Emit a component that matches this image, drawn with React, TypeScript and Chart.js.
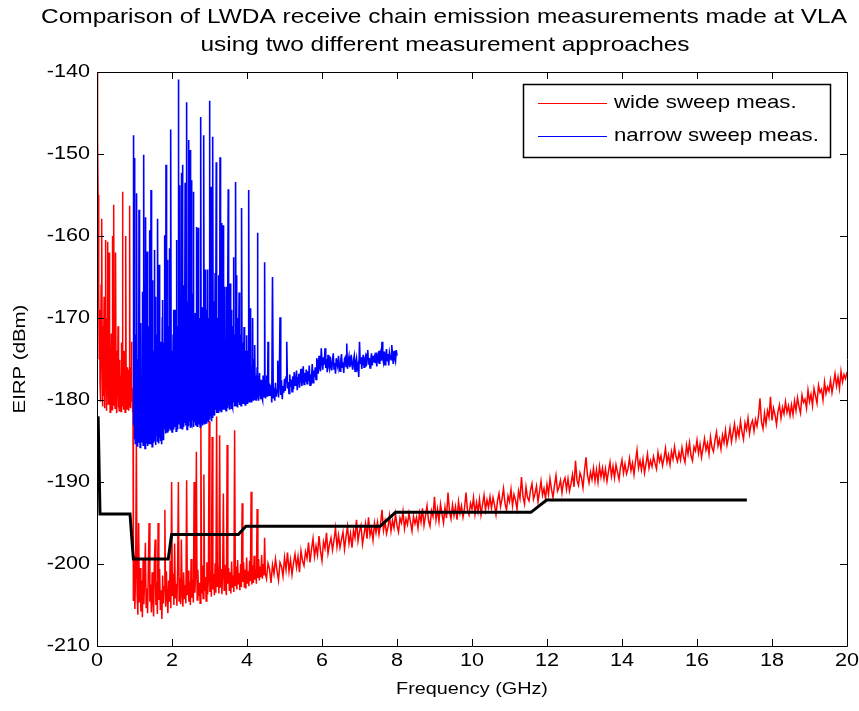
import React, { useEffect, useRef } from "react";
import { Chart, registerables } from "chart.js";

Chart.register(...registerables);

// ---------- text ----------
const TITLE_LINES = [
  "Comparison of LWDA receive chain emission measurements made at VLA",
  "using two different measurement approaches",
];
const X_LABEL = "Frequency (GHz)";
const Y_LABEL = "EIRP (dBm)";
const X_TICKS = [0, 2, 4, 6, 8, 10, 12, 14, 16, 18, 20];
const Y_TICKS = [-210, -200, -190, -180, -170, -160, -150, -140];

// ---------- wide sweep (red) ----------
const WIDE_LOW_START = 0.0;
const WIDE_LOW_STEP = 0.01;
const WIDE_LOW = [
  -138, -147.7, -148.2, -155, -162, -166.6, -175, -169, -178, -172,
  -180.2, -166, -158, -157.9, -176, -180.8, -171, -179.5, -174, -167.4,
  -181, -173, -178.6, -160.5, -177, -181.3, -170, -179.2, -160.7, -176,
  -180.5, -168, -162, -179.8, -173, -181.5, -175, -180.1, -171.9, -178,
  -181.2, -160, -179.4, -174, -180.7, -156.2, -178, -172, -181, -176,
  -162, -180.3, -174, -181.6, -177, -179.5, -171, -180.9, -176, -181.3,
  -178, -175.1, -180.6, -177, -181.4, -173, -179.9, -176, -154.6, -180.8,
  -178, -181.2, -174, -180.4, -177, -181.5, -175, -160, -180.6, -177,
  -181.1, -176, -179.7, -178, -176.3, -181.3, -177, -156.3, -180.5, -178,
  -181, -176, -172.9, -180.2, -178.5, -181.5, -181,
];

const WIDE_MID_START = 0.97;
const WIDE_MID_STEP = 0.02;
const WIDE_MID = [
  -204.5, -199, -205.5, -201, -184.9, -203.8, -206.2, -195, -204.7, -200.5,
  -205.8, -202, -206.5, -199.5, -204.9, -201.5, -197.4, -205.3, -203, -206,
  -200, -195, -204.6, -202.5, -205.9, -201, -204.3, -206.4, -199.8, -197,
  -205, -202.2, -206.1, -195, -204.4, -200.6, -205.6, -203.2, -206.7, -201.4,
  -204.8, -202.8, -193.4, -205.2, -200.9, -204, -206, -202, -204.6, -199.6,
  -205.4, -190, -203.9, -201.2, -205, -197.5, -204.2, -202.4, -205.1, -200.3,
  -190, -204.5, -201.7, -204.9, -197, -203.6, -205.2, -201, -204.3, -202.6,
  -204.8, -189.8, -203.8, -200.8, -204.6, -202.1, -205, -199.4, -204.1, -201.9,
  -204.7, -190, -203.5, -201.3, -186.3, -204.4, -200.7, -203.9, -202.3, -204.8,
  -182.8, -203.6, -200.2, -204.2, -189.1, -203.3, -201.6, -204.5, -199.8, -203.7,
  -202, -182.6, -203.4, -200.9, -204, -184.5, -203.1, -201.2, -203.8, -199.9,
  -203.5, -182, -202.8, -200.4, -203.6, -184.3, -202.9, -200.6, -203.7, -201.3,
  -191.4, -203.2, -200.1, -202.6, -203.8, -185.5, -202.4, -200.5, -203.3, -201,
  -203.6, -199.7, -202.9, -201.4, -203.4, -183.7, -202.7, -200.3, -203.1, -199.5,
  -202.5, -201.1, -203.2, -200, -202.8, -192.6, -202.2, -199.8, -202.9, -200.7,
  -203, -199.2, -202.4, -200.9, -202.7, -199.6, -202.1, -191.2, -202.5, -200.2,
  -202.3, -199, -201.9, -200.6, -202.4, -193.3, -201.7, -199.4, -202, -200.3,
  -201.6, -198.9, -201.8, -200, -201.4, -196.8, -201.2,
];

const WIDE_HIGH_START = 4.52;
const WIDE_HIGH_STEP = 0.04;
const WIDE_HIGH = [
  -201.8, -199.9, -200.6, -202.3, -200.1, -201.2, -199.4, -200.8, -202, -199.8, -200.3, -201.5, -199.2, -200.7, -198.6, -200.9, -199.5, -201.3, -199.9, -198.8, -200.4, -199.1, -201, -198.4, -199.6,
  -200.2, -198.5, -199.3, -197.4, -199.8, -198.2, -196.9, -199.1, -197.8, -198.9, -196.6, -198.4, -199.6, -197.3, -198.1, -196.2, -198.7, -197.6, -196.8, -198.3, -197.1, -195.6, -197.9, -196.5, -198,
  -197, -196.1, -198.2, -196.7, -195.4, -197.5, -196.3, -198, -195.9, -196.8, -194.6, -197.2, -196, -195.3, -197.6, -196.4, -195.1, -196.9, -194.3, -196.5, -195.7, -197.1, -195, -196.2, -194.9,
  -196.4, -195.2, -193.4, -195.9, -194.8, -196.3, -195.5, -194.1, -196, -194.7, -195.6, -193.9, -195.3, -196.1, -194.4, -195, -193.6, -195.7, -194.5, -195.2, -193.8, -194.9, -196, -194.2, -195.1,
  -194.3, -195.6, -193.8, -194.9, -193.2, -195.3, -194.1, -192.9, -194.7, -195.4, -193.5, -194.2, -191.8, -194.6, -193.3, -194.8, -192.7, -193.9, -195, -193.1, -194.4, -191.3, -193.6, -194.5, -192.8,
  -194.1, -193, -194.6, -192.4, -193.8, -192.9, -194.3, -193.2, -191.3, -193.5, -194, -192.6, -193.3, -191.9, -193.9, -192.5, -193.6, -192.1, -194, -192.8, -191.6, -193.4, -192.2, -193.1, -191.8,
  -193.2, -191.9, -192.8, -194, -192.3, -191.4, -193, -192.1, -190.8, -192.6, -193.4, -191.7, -192.4, -190.9, -192.9, -191.5, -192.2, -193.3, -191.1, -192, -189.4, -191.8, -192.7, -190.6, -191.9,
  -192.3, -191, -190.2, -192.1, -191.4, -190.5, -192.4, -191.2, -189.9, -191.6, -190.8, -192, -190.3, -191.5, -189.6, -190.9, -191.9, -190.4, -189.2, -191.1, -190.6, -189.8, -191.3, -190, -189.5,
  -190.9, -189.6, -191.1, -190.2, -189.1, -190.6, -187.4, -189.8, -190.4, -188.9, -189.5, -190.7, -188.6, -187, -189.2, -190.1, -188.8, -189.7, -188.3, -189.9, -188.5, -190, -188.1, -189.4, -188.3,
  -189.6, -188.4, -189.9, -188.7, -187.6, -189.3, -188.1, -189.5, -187.9, -188.8, -189.7, -188.2, -187.3, -188.9, -187.8, -189, -188.4, -187.1, -188.6, -187.7, -189.1, -187.5, -186.1, -188.3, -187.4,
  -188.5, -187.2, -188.9, -187.8, -186.6, -188.3, -187.4, -188.1, -186.9, -187.7, -188.4, -186.4, -187.5, -186.8, -188, -187.1, -185.9, -187.6, -186.7, -187.9, -186.3, -187.2, -185.7, -186.9, -187.5,
  -186.4, -187.3, -185.8, -186.9, -187.6, -185.5, -186.6, -185.2, -186.8, -187.4, -185.7, -186.2, -184.9, -186.5, -185.4, -187, -185.9, -184.7, -186.1, -185.3, -186.6, -184.5, -185.8, -186.3, -184.9,
  -183.9, -185.6, -184.8, -186, -184.3, -185.2, -183.7, -185.5, -184.6, -183.4, -185.1, -184, -182.9, -184.7, -183.5, -184.4, -182.6, -183.9, -184.8, -182.8, -183.6, -182.2, -184.1, -183, -182.5,
  -183.8, -182.4, -183.2, -181.9, -179.8, -182.7, -183.5, -181.6, -182.9, -181.3, -182.1, -179.6, -182.5, -181, -181.8, -183, -181.4, -180.6, -182.2, -180.9, -181.7, -180.2, -181.5, -180.7, -181.9,
  -180.6, -181.8, -180.1, -181.3, -179.7, -180.8, -181.6, -179.4, -180.3, -179.9, -181, -178.8, -180.2, -179.3, -180.7, -178.6, -179.5, -180.4, -178.2, -179.1, -178.7, -180, -177.8, -179.2, -178.4,
  -178.9, -177.6, -179.1, -178, -176.8, -178.3, -177.2, -178.6, -176.5, -177.8, -176.9, -177.4, -176.6,
];

// ---------- narrow sweep (blue) ----------
const NARROW_SPIKE_START = 0.96;
const NARROW_SPIKE_STEP = 0.01;
const NARROW_SPIKES = [
  -183, -147.7, -178, -150.5, -184.8, -176, -185.3, -172, -184.5, -180,
  -154.8, -185.6, -175, -184.9, -182, -185.2, -156.8, -184.6, -177, -185.8,
  -179, -170.6, -185.1, -181, -184.4, -176, -166.8, -185.5, -183, -150.1,
  -184.7, -174, -185.9, -180, -157.7, -185.2, -177, -184.3, -161.9, -185.6,
  -179, -184.8, -171, -185.3, -159.3, -184.6, -178, -185.4, -154.4, -184.9,
  -176, -185.7, -165.4, -184.5, -180, -185.2, -174, -161.7, -185, -182,
  -167.4, -185.5, -177, -184.4, -172, -185.1, -157.9, -184.7, -179, -185.3,
  -163.5, -184.6, -176, -185, -172.9, -184.2, -178, -185.4, -170, -167.8,
  -184.8, -177, -184, -173, -159.9, -183.6, -179, -184.1, -151.3, -183.4,
  -175, -183.9, -162.9, -183.2, -178, -183.8, -171, -161.5, -183.5, -176,
  -183.7, -147, -183.1, -174, -183.9, -178, -182.8, -172, -169, -183.6,
  -177, -183.3, -169, -182.9, -175, -183.8, -160.5, -183.2, -171, -183.6,
  -176, -140.9, -183, -170, -182.6, -153.8, -183.4, -174, -182.9, -168,
  -152.3, -183.5, -151.3, -182.7, -172, -183.3, -166, -182.8, -177, -153.5,
  -183.1, -170, -182.5, -143.7, -183.6, -175, -182.9, -168, -148.3, -183.2,
  -176, -182.6, -149.5, -183.4, -171, -182.8, -153.2, -183, -174, -182.5,
  -167, -154.6, -183.3, -173, -182.7, -177, -169.4, -183.1, -171, -182.4,
  -158.9, -183.2, -175, -182.6, -159, -183, -170, -182.5, -176, -183.3,
  -168, -145.5, -182.7, -174, -182.4, -168.7, -183.1, -172, -182.6, -147.7,
  -182.9, -171, -182.3, -176, -164.1, -182.8, -169, -182.5, -173, -164.1,
  -182.2, -175, -182.7, -170, -143.5, -182.4, -173, -182, -154, -182.6,
  -171, -182.1, -176, -147.9, -181.8, -172, -181.4, -168, -181.9, -164.5,
  -181.2, -174, -151, -181.6, -170, -181, -176, -181.5, -164.8, -180.8,
  -172, -181.3, -150.4, -180.9, -175, -181.4, -158.4, -180.7, -169, -181.2,
  -158.7, -180.6, -173, -181.1, -167, -166.2, -180.8, -176, -181.3, -166.2,
  -180.5, -171, -181, -168, -154.3, -180.7, -174, -181.2, -170, -165.8,
  -180.4, -175, -181, -169, -180.6, -173, -180.9, -171, -162.6, -180.3,
  -176, -180.8, -172, -180.2, -153.4, -180.7, -164.8, -180.4, -175, -180.9,
  -170, -180.3, -174, -166.9, -180.6, -177, -180.1, -172, -180.7, -175,
  -156.6, -180.4, -176, -180, -173, -180.5, -171.1, -180.2, -177, -180.6,
  -174, -180.1, -178, -172.1, -180.4, -176, -180, -174, -180.3, -154.4,
  -179.8, -176, -180.2, -175, -168.8, -179.9, -177, -180.3, -176, -170,
  -179.7, -177, -180.1, -175, -179.5, -173.3, -179.9, -177, -180, -178,
  -179.6, -176, -159.6, -179.8, -177, -180.1, -178, -176.7, -179.5, -177.5,
  -179.9, -178, -179.4, -177.6, -179.7, -178.5, -180, -177, -179.3, -178,
  -179.6, -163.2, -179.2, -177.5, -179.8, -178, -179.1, -177, -179.5, -178.3,
  -172.9, -179, -177.6, -179.4, -178,
];

const NARROW_TAIL_START = 4.62;
const NARROW_TAIL_STEP = 0.02;
const NARROW_TAIL = [
  -179.5, -178.2, -180.3, -165, -179.8, -178.5, -180.1, -177.9, -179.6, -178.8,
  -175.2, -179.7, -178.1, -169.9, -179.4, -177.6, -179.9, -178.3, -179.1, -177.4,
  -178.9, -177.2, -172.9, -178.6, -177.8, -179.2, -176.9, -178.4, -177.5, -179,
  -177.1, -178.7, -176.6, -178.2, -177.9, -176.4, -178.8, -177.3, -176.8, -178.5,
  -177, -176.2, -178.3, -177.6, -175.9, -178.1, -176.7, -177.8, -176.3, -178,
  -176.5, -177.7, -175.8, -178.2, -176.9, -177.4, -175.6, -177.9, -176.4, -177.2,
  -176, -177.5, -174.9, -175.4, -176.8, -174.6, -175.9, -176.5, -173.7, -175.2,
  -176.3, -174.8, -175.7, -173.7, -176.1, -175, -176.6, -174.5, -175.8, -176.2,
  -174.7, -175.9, -176.4, -175.1, -174.3, -176.2, -175.5, -176.8, -174.9, -175.6,
  -176, -174.6, -175.8, -176.5, -175.2, -174.4, -176.1, -175.4, -176.7, -175,
  -174.8, -175.9, -173.1, -176.2, -175.3, -174.7, -176, -175.5, -174.5, -175.8,
  -176.3, -175.1, -174.6, -176.5, -175.4, -174.9, -176.1, -175.7, -177.2, -172.9,
  -175.6, -174.8, -176.2, -175.3, -174.5, -176, -175.1, -174.7, -175.9, -174.4,
  -173.9, -175.7, -174.9, -176.1, -175.2, -174.3, -175.8, -174.6, -175.4, -174.8,
  -175.5, -174.2, -175.9, -174.7, -175.1, -174, -175.6, -174.5, -175.2, -172.9,
  -174.9, -175.4, -174.1, -175.7, -174.6, -173.8, -175.3, -174.4, -175.8, -174.2,
  -174.7, -175.1, -173.3, -174.5, -175.6, -174, -174.9, -175.3, -173.9, -174.6,
];

// ---------- limit line (black) ----------
const LIMIT_FREQ = [0.03, 0.08, 0.88, 0.97, 1.9, 1.99, 3.77, 3.97, 7.55, 7.96, 11.57, 11.99, 17.33];
const LIMIT_LEVEL = [-182, -193.9, -193.9, -199.4, -199.4, -196.4, -196.4, -195.4, -195.4, -193.7, -193.7, -192.2, -192.2];

const WIDE_LABEL = "wide sweep meas.";
const NARROW_LABEL = "narrow sweep meas.";

// ---------- helpers ----------
const gridPoints = (start: number, step: number, values: number[]) =>
  values.map((v, i) => ({ x: Math.round((start + i * step) * 1000) / 1000, y: v }));

const FONT = '"Liberation Sans", Arial, Helvetica, sans-serif';
const SX = 1.2; // wide lettering of the reference

function stretchedText(ctx: CanvasRenderingContext2D, text: string, x: number, y: number, size: number, align: CanvasTextAlign, baseline: CanvasTextBaseline, rot = 0) {
  ctx.save();
  ctx.translate(x, y);
  if (rot) ctx.rotate(rot);
  ctx.scale(SX, 1);
  ctx.font = `${size}px ${FONT}`;
  ctx.fillStyle = "#000";
  ctx.textAlign = align;
  ctx.textBaseline = baseline;
  ctx.fillText(text, 0, 0);
  ctx.restore();
}

const framePlugin = {
  id: "matlabFrame",
  afterDatasetsDraw(chart: any) {
    const { ctx, chartArea: a, scales } = chart;
    const xs = scales.x;
    const ys = scales.y;
    const T = 7;
    ctx.save();
    ctx.strokeStyle = "#000";
    ctx.lineWidth = 1;
    ctx.beginPath();
    ctx.rect(Math.round(a.left) + 0.5, Math.round(a.top) + 0.5, Math.round(a.right - a.left), Math.round(a.bottom - a.top));
    X_TICKS.forEach((v) => {
      const px = Math.round(xs.getPixelForValue(v)) + 0.5;
      ctx.moveTo(px, a.bottom);
      ctx.lineTo(px, a.bottom - T);
      ctx.moveTo(px, a.top);
      ctx.lineTo(px, a.top + T);
    });
    Y_TICKS.forEach((v) => {
      const py = Math.round(ys.getPixelForValue(v)) + 0.5;
      ctx.moveTo(a.left, py);
      ctx.lineTo(a.left + T, py);
      ctx.moveTo(a.right, py);
      ctx.lineTo(a.right - T, py);
    });
    ctx.stroke();

    X_TICKS.forEach((v) => {
      stretchedText(ctx, String(v), xs.getPixelForValue(v), a.bottom + 6, 18, "center", "top");
    });
    Y_TICKS.forEach((v) => {
      stretchedText(ctx, String(v), a.left - 7, ys.getPixelForValue(v), 18, "right", "middle");
    });
    const cx = (a.left + a.right) / 2;
    stretchedText(ctx, X_LABEL, cx, 689, 16.5, "center", "middle");
    stretchedText(ctx, Y_LABEL, 20, (a.top + a.bottom) / 2, 17, "center", "middle", -Math.PI / 2);
    stretchedText(ctx, TITLE_LINES[0], 444, 17, 20.4, "center", "middle");
    stretchedText(ctx, TITLE_LINES[1], 445, 45, 20.4, "center", "middle");

    // legend box
    const bx = 523, by = 84, bw = 307, bh = 73;
    ctx.fillStyle = "#fff";
    ctx.fillRect(bx, by, bw, bh);
    ctx.lineWidth = 1.5;
    ctx.strokeStyle = "#000";
    ctx.strokeRect(bx + 0.5, by + 0.5, bw, bh);
    const entries = chart.data.datasets.slice(0, 2);
    entries.forEach((ds: any, i: number) => {
      const ly = 103 + i * 33;
      ctx.beginPath();
      ctx.lineWidth = 1;
      ctx.strokeStyle = ds.borderColor;
      ctx.moveTo(538, ly + 0.5);
      ctx.lineTo(607, ly + 0.5);
      ctx.stroke();
      stretchedText(ctx, ds.label, 614, ly, 18.5, "left", "middle");
    });
    ctx.restore();
  },
};

export default function App() {
  const ref = useRef<HTMLCanvasElement | null>(null);
  useEffect(() => {
    document.body.style.margin = "0";
    const widePoints = [
      ...gridPoints(WIDE_LOW_START, WIDE_LOW_STEP, WIDE_LOW),
      ...gridPoints(WIDE_MID_START, WIDE_MID_STEP, WIDE_MID),
      ...gridPoints(WIDE_HIGH_START, WIDE_HIGH_STEP, WIDE_HIGH),
    ];
    const narrowPoints = [
      ...gridPoints(NARROW_SPIKE_START, NARROW_SPIKE_STEP, NARROW_SPIKES),
      ...gridPoints(NARROW_TAIL_START, NARROW_TAIL_STEP, NARROW_TAIL),
    ];
    const limitPoints = LIMIT_FREQ.map((f, i) => ({ x: f, y: LIMIT_LEVEL[i] }));
    const chart = new Chart(ref.current as HTMLCanvasElement, {
      type: "line",
      data: {
        datasets: [
          { label: WIDE_LABEL, data: widePoints, borderColor: "#ff0000", borderWidth: 1.5, pointRadius: 0, fill: false, order: 2 },
          { label: NARROW_LABEL, data: narrowPoints, borderColor: "#0000ff", borderWidth: 1.6, pointRadius: 0, fill: false, order: 1 },
          { label: "limit", data: limitPoints, borderColor: "#000000", borderWidth: 3, pointRadius: 0, fill: false, order: 0 },
        ],
      },
      options: {
        animation: false,
        responsive: false,
        events: [],
        layout: { padding: { left: 97, top: 72, right: 12, bottom: 65 } },
        scales: {
          x: { type: "linear", min: 0, max: 20, display: false },
          y: { type: "linear", min: -210, max: -140, display: false },
        },
        plugins: {
          legend: { display: false },
          title: { display: false },
          tooltip: { enabled: false },
        },
      },
      plugins: [framePlugin],
    } as any);
    return () => chart.destroy();
  }, []);
  return (
    <div style={{ position: "absolute", left: 0, top: 0, width: 859, height: 711, background: "#fff" }}>
      <canvas ref={ref} width={859} height={711} style={{ display: "block" }} />
    </div>
  );
}
